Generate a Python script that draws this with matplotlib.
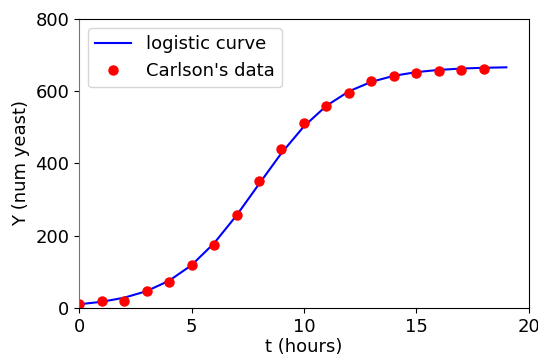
import matplotlib
matplotlib.use("Agg")
import matplotlib.pyplot as plt

# Carlson's yeast growth measurements, hourly
t_data = list(range(19))
y_data = [9.6, 18.3, 20.0, 47.2, 71.1, 119.1, 174.6, 257.3, 350.7, 441.0,
          513.3, 559.7, 594.8, 629.4, 640.8, 651.1, 655.9, 659.6, 661.8]

# fitted logistic curve sampled at each hour
t_curve = list(range(20))
y_curve = [10.0, 16.8, 28.1, 46.3, 75.1, 118.2, 178.8, 255.8, 342.9, 428.7,
           502.8, 559.7, 599.7, 626.0, 642.7, 652.9, 659.0, 662.7, 664.9, 666.1]

plt.rcParams['font.size'] = 13

fig = plt.figure(figsize=(5.38, 3.58), dpi=100)
ax = fig.add_subplot(111)
fig.subplots_adjust(left=0.147, right=0.983, top=0.947, bottom=0.140)

ax.plot(t_curve, y_curve, color="blue", linewidth=1.5, label="logistic curve")
ax.plot(t_data, y_data, "o", color="red", markersize=6.5, label="Carlson's data")

ax.set_xlim(0, 20)
ax.set_ylim(0, 800)
ax.set_xticks([0, 5, 10, 15, 20])
ax.set_yticks([0, 200, 400, 600, 800])
ax.spines['left'].set_color('0.45')
ax.set_xlabel("t (hours)", labelpad=2)
ax.set_ylabel("Y (num yeast)")
ax.legend(loc="upper left")

fig.savefig("out.png", dpi=100)
